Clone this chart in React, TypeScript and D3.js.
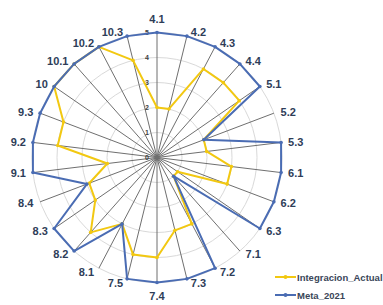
import React from "react";
import * as d3 from "d3";

const categories = ["4.1","4.2","4.3","4.4","5.1","5.2","5.3","6.1","6.2","6.3","7.1","7.2","7.3","7.4","7.5","8.1","8.2","8.3","8.4","9.1","9.2","9.3","10","10.1","10.2","10.3"];
const integracionActual = [2,2,4,4,4,2,2,3,3,1,1,3,3,4,4,3,4,3,2.9,2,4,4,5,5,5,4];
const meta2021 = [5,5,5,5,5,2,5,5,5,5,1,5,5,5,5,3,5,5,3,5,5,5,5,5,5,5];
const ticks = [0,1,2,3,4,5];
const seriesNames = ["Integracion_Actual","Meta_2021"];
const seriesColors = ["#f2c811","#4a6cb3"];

const W = 383, H = 305;
const cx = 157, cy = 157.5, R = 125;

export default function App() {
  const n = categories.length;
  const ang = d3.scaleLinear().domain([0, n]).range([0, 2 * Math.PI]);
  const r = d3.scaleLinear().domain([0, 5]).range([0, R]);
  const pt = (i: number, v: number): [number, number] => {
    const a = ang(i);
    return [cx + Math.sin(a) * r(v), cy - Math.cos(a) * r(v)];
  };
  const line = d3.line<[number, number]>().curve(d3.curveLinearClosed);
  const series = [integracionActual, meta2021];

  return (
    <svg width={W} height={H} style={{ position: "absolute", left: 0, top: 0, background: "#fff" }}>
      {ticks.slice(1).map((t) => (
        <circle key={t} cx={cx} cy={cy} r={r(t)} fill="none" stroke="#d9d9d9" strokeWidth={1} />
      ))}
      {categories.map((c, i) => {
        const [x, y] = pt(i, 5);
        return <line key={c} x1={cx} y1={cy} x2={x} y2={y} stroke="#6f6f6f" strokeWidth={1} />;
      })}
      {ticks.map((t) => (
        <text key={t} x={cx - 8} y={cy - r(t)} textAnchor="end" dominantBaseline="central"
          fontFamily="Liberation Sans, Arial, sans-serif" fontSize={7} fontWeight="bold" fill="#404040">{t}</text>
      ))}
      {series.map((s, k) => (
        <g key={k}>
          <path d={line(s.map((v, i) => pt(i, v))) || ""} fill="none" stroke={seriesColors[k]} strokeWidth={2} strokeLinejoin="round" />
          {s.map((v, i) => {
            const [x, y] = pt(i, v);
            return <circle key={i} cx={x} cy={y} r={1.8} fill={seriesColors[k]} />;
          })}
        </g>
      ))}
      {categories.map((c, i) => {
        const a = ang(i);
        const s = Math.sin(a), co = Math.cos(a);
        const [mx, my] = pt(i, 5);
        let x = mx, y = my, anchor = "middle";
        if (Math.abs(s) < 0.05) {
          y = my - co * 13.5;
        } else if (s > 0) {
          x = mx + 3 + 4 * Math.abs(s);
          y = my - co * 4.5;
          anchor = "start";
        } else {
          x = mx - 3 - 4 * Math.abs(s);
          y = my - co * 4.5;
          anchor = "end";
        }
        return (
          <text key={c} x={x} y={y} textAnchor={anchor} dominantBaseline="central"
            fontFamily="Liberation Sans, Arial, sans-serif" fontSize={11} fontWeight="bold" fill="#2e3d58">{c}</text>
        );
      })}
      {seriesNames.map((name, k) => {
        const ly = k === 0 ? 277 : 295;
        return (
          <g key={name}>
            <line x1={275} x2={296} y1={ly} y2={ly} stroke={seriesColors[k]} strokeWidth={2} />
            <circle cx={285.5} cy={ly} r={2} fill={seriesColors[k]} />
            <text x={297} y={ly} dominantBaseline="central" fontFamily="Liberation Sans, Arial, sans-serif"
              fontSize={9.5} fontWeight="bold" fill="#3a4658">{name}</text>
          </g>
        );
      })}
    </svg>
  );
}
